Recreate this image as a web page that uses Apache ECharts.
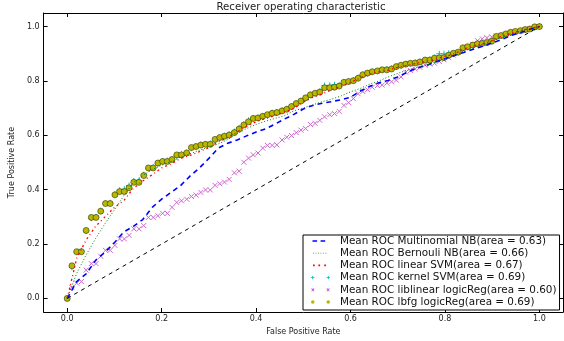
<!DOCTYPE html>
<html>
<head>
<meta charset="utf-8">
<script src="https://cdn.jsdelivr.net/npm/echarts@6/dist/echarts.min.js"></script>
<style>
  html, body { margin: 0; padding: 0; background: #fff; }
  #chart { width: 564px; height: 341px; }
</style>
</head>
<body>
<div id="chart"></div>
<script>
// mean false positive rate, fine grid (used by the marker series)
var fprFine = [
  0, 0.010, 0.020, 0.030, 0.040, 0.051, 0.061, 0.071, 0.081, 0.091,
  0.101, 0.111, 0.121, 0.131, 0.141, 0.152, 0.162, 0.172, 0.182, 0.192,
  0.202, 0.212, 0.222, 0.232, 0.242, 0.253, 0.263, 0.273, 0.283, 0.293,
  0.303, 0.313, 0.323, 0.333, 0.343, 0.354, 0.364, 0.374, 0.384, 0.394,
  0.404, 0.414, 0.424, 0.434, 0.444, 0.455, 0.465, 0.475, 0.485, 0.495,
  0.505, 0.515, 0.525, 0.535, 0.545, 0.556, 0.566, 0.576, 0.586, 0.596,
  0.606, 0.616, 0.626, 0.636, 0.646, 0.657, 0.667, 0.677, 0.687, 0.697,
  0.707, 0.717, 0.727, 0.737, 0.747, 0.758, 0.768, 0.778, 0.788, 0.798,
  0.808, 0.818, 0.828, 0.838, 0.848, 0.859, 0.869, 0.879, 0.889, 0.899,
  0.909, 0.919, 0.929, 0.939, 0.949, 0.960, 0.970, 0.980, 0.990, 1.0
]
// coarser grid for the plain line series
var fprLine = [
  0, 0.02, 0.04, 0.06, 0.08, 0.10, 0.12, 0.14, 0.16, 0.18,
  0.20, 0.22, 0.24, 0.26, 0.28, 0.30, 0.32, 0.34, 0.36, 0.38,
  0.40, 0.42, 0.44, 0.46, 0.48, 0.50, 0.52, 0.54, 0.56, 0.58,
  0.60, 0.62, 0.64, 0.66, 0.68, 0.70, 0.72, 0.74, 0.76, 0.78,
  0.80, 0.82, 0.84, 0.86, 0.88, 0.90, 0.92, 0.94, 0.96, 0.98, 1.0
]
var ticks = [0, 0.2, 0.4, 0.6, 0.8, 1.0]

var multinomialNB = [
  0, 0.062, 0.09, 0.14, 0.17, 0.205, 0.245, 0.265, 0.29, 0.335,
  0.365, 0.39, 0.415, 0.45, 0.48, 0.515, 0.553, 0.571, 0.583, 0.598,
  0.612, 0.624, 0.641, 0.66, 0.677, 0.697, 0.71, 0.718, 0.724, 0.731,
  0.74, 0.762, 0.78, 0.793, 0.802, 0.815, 0.832, 0.847, 0.857, 0.87,
  0.882, 0.894, 0.905, 0.917, 0.928, 0.94, 0.952, 0.967, 0.978, 0.99, 1.0
]
var bernoulliNB = [
  0, 0.092, 0.16, 0.22, 0.275, 0.326, 0.378, 0.426, 0.452, 0.474,
  0.49, 0.503, 0.52, 0.532, 0.545, 0.557, 0.568, 0.585, 0.606, 0.625,
  0.64, 0.652, 0.662, 0.672, 0.69, 0.7, 0.712, 0.724, 0.733, 0.745,
  0.76, 0.772, 0.788, 0.8, 0.815, 0.828, 0.84, 0.85, 0.858, 0.868,
  0.882, 0.893, 0.91, 0.925, 0.935, 0.946, 0.96, 0.974, 0.984, 0.993, 1.0
]
var linearSVM = [
  0, 0.147, 0.215, 0.265, 0.3, 0.335, 0.36, 0.405, 0.432, 0.455,
  0.48, 0.495, 0.515, 0.526, 0.54, 0.555, 0.575, 0.592, 0.612, 0.633,
  0.65, 0.662, 0.672, 0.685, 0.7, 0.722, 0.74, 0.752, 0.768, 0.78,
  0.795, 0.81, 0.825, 0.833, 0.84, 0.85, 0.858, 0.865, 0.872, 0.88,
  0.89, 0.9, 0.918, 0.928, 0.936, 0.948, 0.965, 0.976, 0.985, 0.993, 1.0
]
var kernelSVM = [
  0, 0.115, 0.17, 0.175, 0.248, 0.295, 0.3, 0.322, 0.35, 0.352,
  0.383, 0.398, 0.402, 0.415, 0.432, 0.433, 0.455, 0.478, 0.482, 0.497,
  0.505, 0.507, 0.513, 0.526, 0.53, 0.537, 0.553, 0.558, 0.566, 0.568,
  0.57, 0.583, 0.59, 0.598, 0.604, 0.614, 0.628, 0.64, 0.655, 0.664,
  0.665, 0.671, 0.675, 0.683, 0.686, 0.69, 0.697, 0.705, 0.716, 0.727,
  0.736, 0.748, 0.754, 0.762, 0.783, 0.784, 0.786, 0.784, 0.793, 0.797,
  0.803, 0.812, 0.821, 0.827, 0.833, 0.836, 0.84, 0.843, 0.846, 0.851,
  0.856, 0.861, 0.864, 0.868, 0.871, 0.875, 0.879, 0.886, 0.9, 0.9,
  0.902, 0.9, 0.905, 0.918, 0.924, 0.93, 0.935, 0.94, 0.942, 0.948,
  0.962, 0.966, 0.971, 0.977, 0.981, 0.984, 0.988, 0.992, 0.997, 1.0
]
var liblinearLR = [
  0, 0.04, 0.056, 0.062, 0.104, 0.128, 0.128, 0.155, 0.177, 0.177,
  0.195, 0.219, 0.219, 0.232, 0.256, 0.256, 0.268, 0.298, 0.298, 0.304,
  0.313, 0.313, 0.335, 0.353, 0.359, 0.365, 0.375, 0.38, 0.39, 0.399,
  0.399, 0.416, 0.422, 0.428, 0.438, 0.462, 0.468, 0.501, 0.516, 0.528,
  0.535, 0.553, 0.563, 0.563, 0.565, 0.583, 0.593, 0.599, 0.61, 0.619,
  0.625, 0.64, 0.644, 0.655, 0.668, 0.676, 0.68, 0.688, 0.71, 0.72,
  0.735, 0.753, 0.761, 0.768, 0.777, 0.783, 0.785, 0.792, 0.797, 0.803,
  0.815, 0.832, 0.838, 0.844, 0.85, 0.858, 0.862, 0.865, 0.872, 0.878,
  0.886, 0.895, 0.905, 0.915, 0.925, 0.935, 0.948, 0.955, 0.959, 0.962,
  0.965, 0.968, 0.972, 0.976, 0.98, 0.984, 0.988, 0.992, 0.997, 1.0
]
var lbfgLR = [
  0, 0.12, 0.172, 0.172, 0.25, 0.298, 0.298, 0.321, 0.349, 0.349,
  0.381, 0.393, 0.393, 0.407, 0.427, 0.427, 0.452, 0.48, 0.48, 0.498,
  0.504, 0.504, 0.511, 0.528, 0.528, 0.535, 0.555, 0.559, 0.564, 0.567,
  0.567, 0.585, 0.592, 0.597, 0.601, 0.61, 0.623, 0.638, 0.65, 0.662,
  0.664, 0.67, 0.676, 0.681, 0.684, 0.69, 0.696, 0.706, 0.717, 0.726,
  0.738, 0.749, 0.755, 0.759, 0.775, 0.775, 0.777, 0.781, 0.795, 0.798,
  0.801, 0.81, 0.823, 0.829, 0.834, 0.837, 0.841, 0.841, 0.844, 0.853,
  0.858, 0.862, 0.865, 0.866, 0.87, 0.877, 0.877, 0.884, 0.885, 0.886,
  0.895, 0.902, 0.906, 0.922, 0.926, 0.932, 0.937, 0.938, 0.941, 0.946,
  0.964, 0.967, 0.973, 0.979, 0.982, 0.985, 0.989, 0.991, 0.999, 1.0
]
var chanceX = [0, 1]
var chanceY = [0, 1]

var names = [
  'Mean ROC Multinomial NB(area = 0.63)',
  'Mean ROC Bernouli NB(area = 0.66)',
  'Mean ROC linear SVM(area = 0.67)',
  'Mean ROC kernel SVM(area = 0.69)',
  'Mean ROC liblinear logicReg(area = 0.60)',
  'Mean ROC lbfg logicReg(area = 0.69)'
]

function pairs (xs, ys) {
  return ys.map(function (v, i) { return [xs[i], v] })
}

var font = 'DejaVu Sans'
var plusPath = 'path://M0,5L10,5M5,0L5,10'
var crossPath = 'path://M0,0L10,10M10,0L0,10'

// legend icons drawn like matplotlib's (two markers / short line sample), filled shapes in a 19x8 box
var box = 'M0,0M19,8'
var legendIcons = [
  'path://' + box + 'M1.5,3.2h4.6v1.6h-4.6zM9.6,3.2h4.6v1.6h-4.6z',
  'path://' + box + 'M2,3.5h0.8v0.8h-0.8zM4.5,3.5h0.8v0.8h-0.8zM7,3.5h0.8v0.8h-0.8zM9.5,3.5h0.8v0.8h-0.8zM12,3.5h0.8v0.8h-0.8zM14.5,3.5h0.8v0.8h-0.8z',
  'path://' + box + 'M2,3.2h1.7v1.6h-1.7zM7.4,3.2h1.7v1.6h-1.7zM13.2,3.2h1.7v1.6h-1.7z',
  'path://' + box + 'M0,3.55h3.4v0.9h-3.4zM1.25,2.3h0.9v3.4h-0.9zM15.6,3.55h3.4v0.9h-3.4zM16.85,2.3h0.9v3.4h-0.9z',
  'path://' + box + 'M0.3,2.9L0.9,2.3L3.5,5.1L2.9,5.7ZM2.9,2.3L3.5,2.9L0.9,5.7L0.3,5.1Z' +
    'M15.5,2.9L16.1,2.3L18.7,5.1L18.1,5.7ZM18.1,2.3L18.7,2.9L16.1,5.7L15.5,5.1Z',
  'path://' + box + 'M-0.1,4a1.8,1.8 0 1,0 3.6,0a1.8,1.8 0 1,0 -3.6,0zM15.5,4a1.8,1.8 0 1,0 3.6,0a1.8,1.8 0 1,0 -3.6,0z'
]

function tickAxis (pos, isX, showLabel) {
  return {
    type: 'value',
    position: pos,
    min: -0.05,
    max: 1.05,
    axisLine: { show: true, onZero: false, lineStyle: { color: '#000', width: 1 } },
    axisTick: { show: true, inside: true, length: 4, customValues: ticks, lineStyle: { color: '#000' } },
    axisLabel: {
      show: showLabel,
      customValues: ticks,
      fontFamily: font,
      fontSize: 8,
      color: '#222',
      margin: isX ? 3 : 4,
      formatter: function (v) { return v.toFixed(1) }
    },
    splitLine: { show: false }
  }
}

var myChart = echarts.init(document.getElementById('chart'))
var xMain = tickAxis('bottom', true, true)
xMain.name = 'False Positive Rate'
xMain.nameLocation = 'middle'
xMain.nameGap = 16
xMain.nameTextStyle = { fontFamily: font, fontSize: 8, color: '#222' }
var yMain = tickAxis('left', false, true)
yMain.name = 'True Positive Rate'
yMain.nameLocation = 'middle'
yMain.nameGap = 24
yMain.nameTextStyle = { fontFamily: font, fontSize: 8, color: '#222' }

myChart.setOption({
  animation: false,
  title: {
    text: 'Receiver operating characteristic',
    left: 301,
    textAlign: 'center',
    top: 2,
    padding: 0,
    textStyle: { fontFamily: font, fontSize: 10.2, fontWeight: 'normal', color: '#222' }
  },
  grid: { left: 38, right: 1, top: 13, bottom: 25 },
  xAxis: [xMain, tickAxis('top', true, false)],
  yAxis: [yMain, tickAxis('right', false, false)],
  legend: {
    orient: 'vertical',
    left: 303,
    top: 235,
    data: names.map(function (n, i) { return { name: n, icon: legendIcons[i] } }),
    itemWidth: 19,
    itemHeight: 8,
    itemGap: 0.2,
    symbolKeepAspect: false,
    padding: [0, 3, 2, 8],
    borderColor: '#000',
    borderWidth: 1,
    backgroundColor: '#fff',
    itemStyle: { borderWidth: 0 },
    textStyle: { fontFamily: font, fontSize: 10.4, lineHeight: 12, color: '#111', padding: [0, 0, 0, 5] }
  },
  series: [
    {
      name: names[0],
      type: 'line',
      data: pairs(fprLine, multinomialNB),
      symbol: 'none',
      lineStyle: { color: '#0000ff', width: 1.6, type: [5, 4] },
      itemStyle: { color: '#0000ff' }
    },
    {
      name: names[1],
      type: 'line',
      data: pairs(fprLine, bernoulliNB),
      symbol: 'none',
      lineStyle: { color: '#008000', width: 1, type: [1, 2] },
      itemStyle: { color: '#008000' }
    },
    {
      name: names[2],
      type: 'line',
      data: pairs(fprLine, linearSVM),
      symbol: 'none',
      lineStyle: { color: '#ff0000', width: 1.3, type: [2, 3, 1, 3] },
      itemStyle: { color: '#ff0000' }
    },
    {
      name: names[3],
      type: 'scatter',
      data: pairs(fprFine, kernelSVM),
      symbol: plusPath,
      symbolSize: 6,
      itemStyle: { color: '#00bfbf', borderColor: '#00bfbf', borderWidth: 1, opacity: 1 }
    },
    {
      name: names[4],
      type: 'scatter',
      data: pairs(fprFine, liblinearLR),
      symbol: crossPath,
      symbolSize: 5,
      itemStyle: { color: '#cc66cc', borderColor: '#cc66cc', borderWidth: 1, opacity: 1 }
    },
    {
      name: names[5],
      type: 'scatter',
      data: pairs(fprFine, lbfgLR),
      symbol: 'circle',
      symbolSize: 6,
      itemStyle: { color: '#b8b800', borderColor: '#333300', borderWidth: 0.6, opacity: 1 }
    },
    {
      name: 'chance',
      type: 'line',
      data: pairs(chanceX, chanceY),
      symbol: 'none',
      lineStyle: { color: '#000', width: 1, type: [4, 4] }
    }
  ]
})
</script>
</body>
</html>
